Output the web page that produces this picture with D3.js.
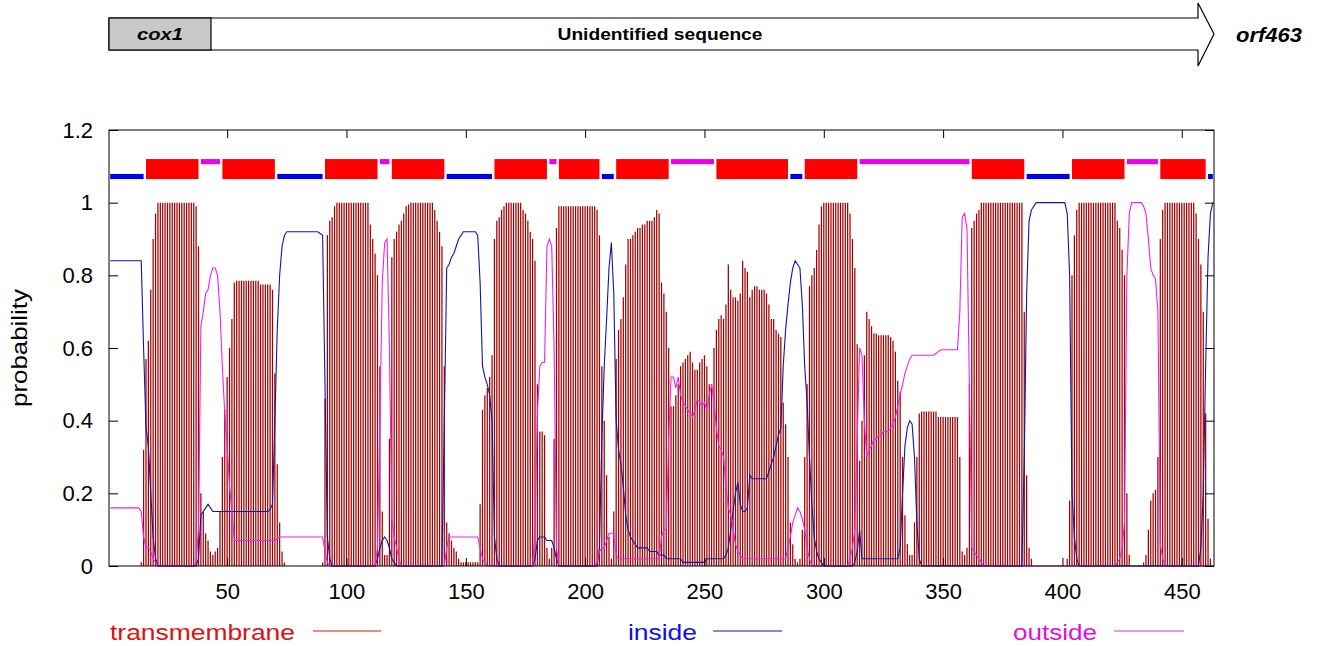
<!DOCTYPE html>
<html><head><meta charset="utf-8">
<script src="https://cdn.jsdelivr.net/npm/d3@7"></script>
<style>body{margin:0;background:#fff}svg{display:block}</style>
</head><body><svg id="c" width="1319" height="646"></svg>
<script>
// transmembrane posterior probability per residue (1..463)
const tmProb = [
0,0,0,0,0,0,0,0,0,0,
0,0,0,0.01,0.32,0.57,0.62,0.76,0.9,0.97,
1,1,1,1,1,1,1,1,1,1,
1,1,1,1,1,1,0.99,0.88,0.2,0.15,
0.09,0.07,0.04,0.03,0.04,0.05,0.15,0.3,0.43,0.52,
0.6,0.68,0.78,0.785,0.785,0.785,0.785,0.785,0.785,0.785,
0.785,0.785,0.785,0.775,0.775,0.775,0.775,0.775,0.76,0.53,
0.28,0.12,0.04,0.01,0,0,0,0,0,0,
0,0,0,0,0,0,0,0,0,0.01,
0.46,0.91,0.95,0.96,0.99,1,1,1,1,1,
1,1,1,1,1,1,1,1,1,0.94,
0.9,0.86,0.8,0.55,0.15,0.03,0.03,0.35,0.85,0.9,
0.92,0.94,0.95,0.97,0.99,0.995,1,1,1,1,
1,1,1,1,1,1,0.98,0.95,0.92,0.88,
0.55,0.12,0.09,0.07,0.05,0.04,0.02,0.01,0.01,0.01,
0.01,0.01,0.01,0.01,0.01,0.17,0.43,0.47,0.49,0.52,
0.58,0.9,0.95,0.96,0.98,0.99,1,1,1,1,
1,1,1,0.98,0.97,0.95,0.92,0.9,0.84,0.5,
0.37,0.37,0.36,0.05,0.02,0.05,0.35,0.93,0.99,0.99,
0.99,0.99,0.99,0.99,0.99,0.99,0.99,0.99,0.99,0.99,
0.99,0.99,0.99,0.99,0.98,0.91,0.55,0.4,0.25,0.08,
0.02,0.15,0.57,0.65,0.68,0.74,0.83,0.9,0.9,0.91,
0.92,0.93,0.93,0.94,0.94,0.95,0.95,0.95,0.96,0.98,
0.97,0.78,0.75,0.7,0.6,0.44,0.44,0.47,0.5,0.55,
0.56,0.57,0.58,0.59,0.56,0.54,0.54,0.56,0.57,0.58,
0.55,0.5,0.5,0.6,0.65,0.68,0.69,0.68,0.72,0.83,
0.76,0.74,0.74,0.73,0.75,0.84,0.82,0.81,0.74,0.76,
0.77,0.77,0.76,0.76,0.76,0.75,0.72,0.68,0.68,0.65,
0.64,0.63,0.45,0.39,0.3,0.12,0.06,0.02,0.01,0.02,
0.1,0.3,0.5,0.77,0.8,0.82,0.87,0.94,0.99,1,
1,1,1,1,1,1,1,1,1,1,
0.97,0.9,0.82,0.61,0.29,0.4,0.58,0.7,0.68,0.66,
0.64,0.64,0.635,0.635,0.635,0.635,0.635,0.63,0.62,0.59,
0.51,0.48,0.3,0.14,0.06,0.03,0.03,0.12,0.3,0.42,
0.425,0.425,0.425,0.425,0.425,0.425,0.425,0.41,0.41,0.41,
0.41,0.41,0.41,0.41,0.41,0.41,0.3,0.04,0.03,0.05,
0.5,0.93,0.95,0.97,0.98,1,1,1,1,1,
1,1,1,1,1,1,1,1,1,1,
1,1,1,0.7,0.25,0.05,0.02,0,0,0,
0,0,0,0,0,0,0,0,0,0,
0,0.02,0.18,0.8,0.91,0.98,1,1,1,1,
1,1,1,1,1,1,1,1,1,1,
1,1,0.95,0.93,0.87,0.8,0.2,0.03,0,0,
0,0,0,0.01,0.03,0.1,0.18,0.2,0.21,0.3,
0.9,0.98,1,1,1,1,1,1,1,1,
1,1,1,1,1,0.97,0.9,0.83,0.7,0.42,
0.13,0.02,0
];
// inside probability per residue
const insideProb = [
0.84,0.84,0.84,0.84,0.84,0.84,0.84,0.84,0.84,0.84,
0.84,0.84,0.84,0.84,0.6,0.38,0.33,0.2,0.08,0.02,
0,0,0,0,0,0,0,0,0,0,
0,0,0,0,0,0,0,0.02,0.14,0.15,
0.16,0.17,0.16,0.15,0.15,0.15,0.15,0.15,0.15,0.15,
0.15,0.15,0.15,0.15,0.15,0.15,0.15,0.15,0.15,0.15,
0.15,0.15,0.15,0.15,0.15,0.15,0.15,0.155,0.17,0.4,
0.65,0.8,0.88,0.91,0.92,0.92,0.92,0.92,0.92,0.92,
0.92,0.92,0.92,0.92,0.92,0.92,0.92,0.92,0.915,0.91,
0.5,0.08,0.02,0,0,0,0,0,0,0,
0,0,0,0,0,0,0,0,0,0,
0,0,0.02,0.05,0.07,0.08,0.07,0.05,0.02,0.01,
0,0,0,0,0,0,0,0,0,0,
0,0,0,0,0,0,0,0,0,0,
0.4,0.82,0.83,0.85,0.86,0.88,0.9,0.91,0.92,0.92,
0.92,0.92,0.92,0.92,0.91,0.78,0.55,0.52,0.5,0.47,
0.4,0.08,0.02,0,0,0,0,0,0,0,
0,0,0,0,0,0,0,0,0.02,0.07,
0.08,0.08,0.08,0.07,0.07,0.07,0.05,0.02,0,0,
0,0,0,0,0,0,0,0,0,0,
0,0,0,0,0,0.05,0.35,0.55,0.68,0.82,
0.89,0.75,0.4,0.32,0.28,0.22,0.14,0.1,0.08,0.07,
0.06,0.05,0.05,0.05,0.05,0.05,0.04,0.04,0.04,0.04,
0.03,0.03,0.03,0.02,0.02,0.02,0.02,0.02,0.02,0.02,
0.01,0.01,0.01,0.01,0.01,0.01,0.01,0.01,0.01,0.01,
0.02,0.02,0.02,0.02,0.02,0.02,0.02,0.02,0.03,0.05,
0.1,0.15,0.2,0.23,0.17,0.15,0.15,0.16,0.25,0.24,
0.24,0.24,0.24,0.24,0.24,0.24,0.26,0.28,0.3,0.33,
0.36,0.38,0.55,0.65,0.72,0.78,0.82,0.84,0.83,0.82,
0.72,0.55,0.45,0.3,0.17,0.08,0.04,0.02,0.01,0,
0,0,0,0,0,0,0,0,0,0,
0,0,0.01,0.04,0.1,0.02,0.02,0.02,0.02,0.02,
0.02,0.02,0.02,0.02,0.02,0.02,0.02,0.02,0.02,0.02,
0.02,0.05,0.2,0.33,0.38,0.4,0.39,0.3,0.12,0.02,
0,0,0,0,0,0,0,0,0,0,
0,0,0,0,0,0,0,0,0,0,
0,0,0,0,0,0,0,0,0,0,
0,0,0,0,0,0,0,0,0,0,
0,0,0,0.3,0.75,0.95,0.98,0.99,1,1,
1,1,1,1,1,1,1,1,1,1,
1,0.97,0.8,0.2,0.08,0.02,0,0,0,0,
0,0,0,0,0,0,0,0,0,0,
0,0,0,0,0,0,0,0,0,0,
0,0,0,0,0,0,0,0,0,0,
0,0,0,0,0,0,0,0,0,0,
0,0,0,0,0,0,0,0.05,0.2,0.55,
0.85,0.97,1
];
// outside probability per residue
const outsideProb = [
0.16,0.16,0.16,0.16,0.16,0.16,0.16,0.16,0.16,0.16,
0.16,0.16,0.16,0.15,0.08,0.05,0.05,0.04,0.02,0.01,
0,0,0,0,0,0,0,0,0,0,
0,0,0,0,0,0,0.01,0.1,0.66,0.7,
0.75,0.76,0.8,0.82,0.82,0.8,0.7,0.55,0.42,0.33,
0.22,0.15,0.07,0.07,0.07,0.07,0.07,0.07,0.07,0.07,
0.07,0.07,0.07,0.07,0.07,0.07,0.07,0.07,0.07,0.07,
0.075,0.08,0.08,0.08,0.08,0.08,0.08,0.08,0.08,0.08,
0.08,0.08,0.08,0.08,0.08,0.08,0.08,0.08,0.08,0.08,
0.04,0.01,0,0,0,0,0,0,0,0,
0,0,0,0,0,0,0,0,0,0,
0,0,0.05,0.4,0.78,0.89,0.9,0.6,0.13,0.08,
0.05,0.02,0,0,0,0,0,0,0,0,
0,0,0,0,0,0,0,0,0,0,
0,0.05,0.08,0.08,0.08,0.08,0.08,0.08,0.08,0.08,
0.08,0.08,0.08,0.08,0.08,0.05,0.02,0.01,0,0,
0,0,0,0,0,0,0,0,0,0,
0,0,0,0,0,0,0,0,0.1,0.42,
0.55,0.56,0.56,0.88,0.9,0.88,0.6,0.05,0,0,
0,0,0,0,0,0,0,0,0,0,
0,0,0,0,0.01,0.04,0.05,0.05,0.07,0.09,
0.09,0.09,0.03,0.02,0.02,0.02,0.02,0.02,0.02,0.02,
0.02,0.02,0.02,0.02,0.02,0.02,0.02,0.02,0.02,0.02,
0.02,0.08,0.1,0.1,0.35,0.52,0.52,0.49,0.52,0.47,
0.45,0.44,0.43,0.42,0.41,0.43,0.46,0.45,0.44,0.45,
0.43,0.47,0.5,0.45,0.38,0.33,0.32,0.3,0.22,0.16,
0.14,0.1,0.06,0.04,0.03,0.02,0.02,0.02,0.02,0.02,
0.02,0.02,0.02,0.02,0.02,0.02,0.02,0.02,0.02,0.02,
0.02,0.02,0.02,0.02,0.05,0.08,0.12,0.14,0.16,0.15,
0.13,0.1,0.05,0.02,0,0,0,0,0,0,
0,0,0,0,0,0,0,0,0,0,
0.02,0.05,0.1,0.35,0.6,0.58,0.4,0.3,0.32,0.33,
0.35,0.35,0.36,0.36,0.37,0.37,0.37,0.38,0.39,0.41,
0.44,0.47,0.5,0.53,0.55,0.57,0.58,0.58,0.58,0.58,
0.58,0.58,0.58,0.58,0.58,0.58,0.585,0.59,0.595,0.595,
0.595,0.595,0.595,0.595,0.595,0.595,0.7,0.96,0.97,0.93,
0.5,0.05,0.04,0.03,0.02,0.01,0,0,0,0,
0,0,0,0,0,0,0,0,0,0,
0,0,0,0,0,0,0,0,0,0,
0,0,0,0,0,0,0,0,0,0,
0,0,0,0,0,0,0,0,0,0,
0,0,0,0,0,0,0,0,0,0,
0,0,0.01,0.02,0.05,0.12,0.8,0.97,1,1,
1,1,1,0.99,0.97,0.9,0.82,0.8,0.79,0.7,
0.06,0.02,0,0,0,0,0,0,0,0,
0,0,0,0,0,0,0,0,0,0,
0,0,0
];
// predicted topology segments
const topoStart = [1,16,39,48,71,91,114,119,142,162,185,189,207,213,236,255,286,292,315,362,385,404,427,441,461];
const topoEnd   = [15,38,47,70,90,113,118,141,161,184,188,206,212,235,254,285,291,314,361,384,403,426,440,460,463];
const topoType  = ["inside","TMhelix","outside","TMhelix","inside","TMhelix","outside","TMhelix","inside","TMhelix","outside","TMhelix","inside","TMhelix","outside","TMhelix","inside","TMhelix","outside","TMhelix","inside","TMhelix","outside","TMhelix","inside"];
const xTicks = [50,100,150,200,250,300,350,400,450];
const yTicks = [0,0.2,0.4,0.6,0.8,1,1.2];
const legendLabels = ["transmembrane","inside","outside"];
const headerLabels = ["cox1","Unidentified sequence","orf463"];

const FONT = "'Liberation Sans', Arial, sans-serif";
const svg = d3.select("#c");
const L = 109, R = 1214, T = 130, B = 566;
const x = d3.scaleLinear().domain([0.5, tmProb.length + 0.5]).range([L, R]);
const y = d3.scaleLinear().domain([0, 1.2]).range([B, T]);
const residues = d3.range(1, tmProb.length + 1);

// ---- header gene map ----
const hdr = svg.append("g");
const bodyEnd = 1198, tip = 1214, hTop = 18, hBot = 50, hMid = 34;
hdr.append("path")
  .attr("d", `M${L},${hTop} L${bodyEnd},${hTop} L${bodyEnd},3 L${tip},${hMid} L${bodyEnd},66 L${bodyEnd},${hBot} L${L},${hBot} Z`)
  .attr("fill", "#fff").attr("stroke", "#000").attr("stroke-width", 1.2);
hdr.append("rect").attr("x", L).attr("y", hTop).attr("width", 102).attr("height", hBot - hTop)
  .attr("fill", "#c8c8c8").attr("stroke", "#000").attr("stroke-width", 1.2);
hdr.append("text").attr("x", 160).attr("y", 40).attr("text-anchor", "middle")
  .attr("font-family", FONT).attr("font-size", 17).attr("font-weight", "bold").attr("font-style", "italic")
  .attr("textLength", 46).attr("lengthAdjust", "spacingAndGlyphs").text(headerLabels[0]);
hdr.append("text").attr("x", 660).attr("y", 40).attr("text-anchor", "middle")
  .attr("font-family", FONT).attr("font-size", 17).attr("font-weight", "bold")
  .attr("textLength", 205).attr("lengthAdjust", "spacingAndGlyphs").text(headerLabels[1]);
hdr.append("text").attr("x", 1269).attr("y", 42).attr("text-anchor", "middle")
  .attr("font-family", FONT).attr("font-size", 21).attr("font-weight", "bold").attr("font-style", "italic")
  .attr("textLength", 66).attr("lengthAdjust", "spacingAndGlyphs").text(headerLabels[2]);

// ---- TM impulses ----
svg.append("g").selectAll("line")
  .data(residues.filter(r => tmProb[r - 1] > 0))
  .join("line")
  .attr("x1", r => x(r)).attr("x2", r => x(r))
  .attr("y1", y(0)).attr("y2", r => y(tmProb[r - 1]))
  .attr("stroke", "#a00000").attr("stroke-width", 1.25);

// ---- inside / outside curves ----
const line = d3.line().x((d, i) => x(i + 1)).y(d => y(d));
svg.append("path").datum(insideProb).attr("d", line)
  .attr("fill", "none").attr("stroke", "#1414a8").attr("stroke-width", 1.1);
svg.append("path").datum(outsideProb).attr("d", line)
  .attr("fill", "none").attr("stroke", "#f020f0").attr("stroke-width", 1.1);

// ---- topology bars ----
const topoY = {TMhelix: [1.12, 1.065], inside: [1.079, 1.065], outside: [1.12, 1.106]};
const topoCol = {TMhelix: "#ff0000", inside: "#0000ee", outside: "#ee00ee"};
svg.append("g").selectAll("rect")
  .data(topoStart.map((s, i) => ({s, e: topoEnd[i], t: topoType[i]})))
  .join("rect")
  .attr("x", d => x(d.s)).attr("width", d => x(d.e) - x(d.s))
  .attr("y", d => y(topoY[d.t][0])).attr("height", d => y(topoY[d.t][1]) - y(topoY[d.t][0]))
  .attr("fill", d => topoCol[d.t]);

// ---- axes ----
svg.append("g").attr("transform", `translate(${L},0)`)
  .call(d3.axisLeft(y).tickValues(yTicks).tickSize(-9).tickPadding(16).tickFormat(d3.format("")));
svg.append("g").attr("transform", `translate(0,${B})`)
  .call(d3.axisBottom(x).tickValues(xTicks).tickSize(-8).tickPadding(17));
svg.append("g").attr("transform", `translate(${R},0)`)
  .call(d3.axisRight(y).tickValues(yTicks).tickSize(-9).tickFormat(""));
svg.append("g").attr("transform", `translate(0,${T})`)
  .call(d3.axisTop(x).tickValues(xTicks).tickSize(-8).tickFormat(""));
svg.selectAll(".domain").remove();
svg.selectAll(".tick line").attr("stroke", "#000");
svg.selectAll(".tick text").attr("font-family", FONT).attr("font-size", 22).attr("fill", "#000");
svg.append("rect").attr("x", L).attr("y", T).attr("width", R - L).attr("height", B - T)
  .attr("fill", "none").attr("stroke", "#000").attr("stroke-width", 1);

svg.append("text").attr("transform", `translate(27,348) rotate(-90)`).attr("text-anchor", "middle")
  .attr("font-family", FONT).attr("font-size", 22).attr("textLength", 118).attr("lengthAdjust", "spacingAndGlyphs")
  .text("probability");

// ---- legend ----
const legX = [110, 628, 1013], legW = [185, 69, 84], legL = [[313, 381], [713, 782], [1114, 1184]];
const legText = ["#e01010", "#1010e0", "#e010e0"], legLine = ["#e01010", "#1414a8", "#f020f0"];
const lg = svg.append("g");
legendLabels.forEach((lab, i) => {
  lg.append("text").attr("x", legX[i]).attr("y", 640).attr("font-family", FONT).attr("font-size", 22)
    .attr("fill", legText[i]).attr("textLength", legW[i]).attr("lengthAdjust", "spacingAndGlyphs").text(lab);
  lg.append("line").attr("x1", legL[i][0]).attr("x2", legL[i][1]).attr("y1", 631).attr("y2", 631)
    .attr("stroke", legLine[i]).attr("stroke-width", 1.2);
});
</script></body></html>
